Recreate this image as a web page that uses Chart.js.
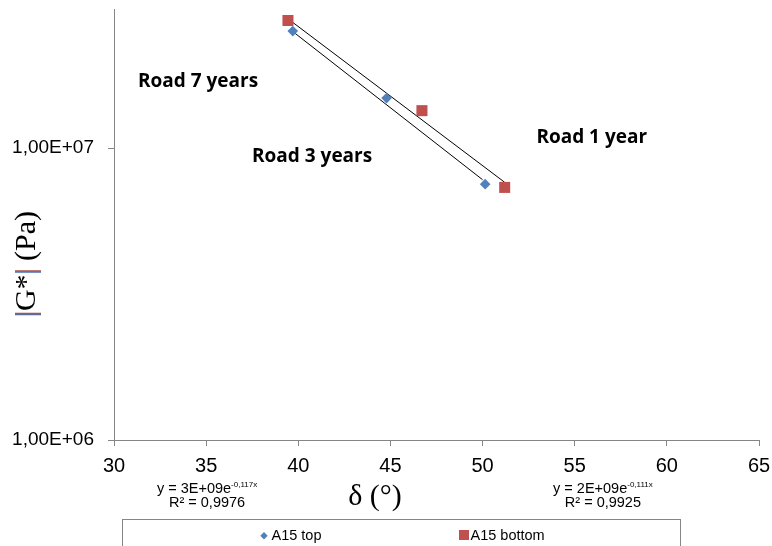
<!DOCTYPE html>
<html>
<head>
<meta charset="utf-8">
<script src="https://cdn.jsdelivr.net/npm/chart.js@4"></script>
<style>
    html, body { margin: 0; padding: 0; background: #fff; }
</style>
</head>
<body>
<canvas id="modulusChart" width="772" height="546"></canvas>
<script>
// phase angle (deg) and |G*| (Pa)
const deltaTop = [39.7, 44.79, 50.14];
const modulusTop = [2.52e7, 1.485e7, 7.53e6];
const deltaBottom = [39.44, 46.71, 51.2];
const modulusBottom = [2.74e7, 1.345e7, 7.34e6];

// exponential trendlines, end points only
const trendTopDelta = [39.6, 50.0];
const trendTopModulus = [2.54e7, 7.8e6];
const trendBottomDelta = [39.53, 51.2];
const trendBottomModulus = [2.75e7, 7.64e6];

const yTickValues = [1e6, 1e7];
const yTickLabels = ['1,00E+06', '1,00E+07'];

const roadLabels = ['Road 7 years', 'Road 3 years', 'Road 1 year'];
const roadDelta = [31.3, 37.49, 52.92];
const roadModulus = [1.696e7, 9.39e6, 1.09e7];

const eqMain = ['y = 3E+09e', 'y = 2E+09e'];
const eqExp = ['-0,117x', '-0,111x'];
const eqR2 = ['R\u00b2 = 0,9976', 'R\u00b2 = 0,9925'];
const eqDelta = [35.05, 56.53];

const seriesNames = ['A15 top', 'A15 bottom'];
const blue = '#4F81BD';
const red = '#C0504D';

function toPoints(xs, ys) {
    return xs.map((x, i) => ({ x: x, y: ys[i] }));
}

const extraText = {
    id: 'extraText',
    afterDraw(chart) {
        const ctx = chart.ctx;
        const xs = chart.scales.x;
        const ys = chart.scales.y;
        const base = chart.chartArea.bottom;
        ctx.save();
        ctx.fillStyle = '#000';
        ctx.textBaseline = 'middle';
        ctx.textAlign = 'left';

        ctx.font = 'bold 19px "Open Sans"';
        roadLabels.forEach((t, i) => {
            ctx.fillText(t, xs.getPixelForValue(roadDelta[i]), ys.getPixelForValue(roadModulus[i]));
        });

        // trendline equations under the axis
        eqMain.forEach((t, i) => {
            const cx = xs.getPixelForValue(eqDelta[i]);
            ctx.font = '14.5px "Liberation Sans"';
            const w1 = ctx.measureText(t).width;
            ctx.font = '8px "Liberation Sans"';
            const w2 = ctx.measureText(eqExp[i]).width;
            const left = cx - (w1 + w2) / 2;
            ctx.font = '14.5px "Liberation Sans"';
            ctx.fillText(t, left, base + 49);
            ctx.font = '8px "Liberation Sans"';
            ctx.fillText(eqExp[i], left + w1, base + 45);
            ctx.font = '14.5px "Liberation Sans"';
            ctx.textAlign = 'center';
            ctx.fillText(eqR2[i], cx, base + 63);
            ctx.textAlign = 'left';
        });

        // x title
        ctx.font = '30px "Liberation Serif"';
        ctx.textAlign = 'center';
        ctx.fillText('δ (°)', xs.getPixelForValue(44.16), 497);

        // y title, rotated, with coloured bars
        ctx.translate(27, 264);
        ctx.rotate(-Math.PI / 2);
        ctx.textAlign = 'left';
        const parts = ['|', 'G*', '|', ' (Pa)'];
        ctx.font = '30px "Liberation Serif"';
        const total = ctx.measureText(parts.join('')).width;
        let px = -total / 2;
        parts.forEach((p) => {
            const w = ctx.measureText(p).width;
            if (p === '|') {
                ctx.fillStyle = '#4A74B4';
                ctx.fillText(p, px - 0.5, 0);
                ctx.fillStyle = '#A8544A';
                ctx.fillText(p, px + 0.5, 0);
            } else {
                ctx.fillStyle = '#000';
                ctx.fillText(p, px, 0);
            }
            px += w;
        });
        ctx.setTransform(1, 0, 0, 1, 0, 0);

        // legend box
        ctx.strokeStyle = '#868686';
        ctx.lineWidth = 1;
        ctx.strokeRect(122.5, 519.5, 558, 40);
        ctx.font = '14.5px "Liberation Sans"';
        ctx.fillStyle = blue;
        ctx.beginPath();
        ctx.moveTo(264, 532);
        ctx.lineTo(267.7, 535.7);
        ctx.lineTo(264, 539.4);
        ctx.lineTo(260.3, 535.7);
        ctx.closePath();
        ctx.fill();
        ctx.fillStyle = red;
        ctx.fillRect(459, 530, 10, 10);
        ctx.fillStyle = '#000';
        ctx.fillText(seriesNames[0], 271.5, 536);
        ctx.fillText(seriesNames[1], 470.5, 536);
        ctx.restore();
    }
};

new Chart(document.getElementById('modulusChart'), {
    type: 'scatter',
    data: {
        datasets: [
            {
                label: seriesNames[0],
                data: toPoints(deltaTop, modulusTop),
                pointStyle: 'rectRot',
                pointRadius: 5.3,
                backgroundColor: blue,
                borderColor: blue,
                borderWidth: 0
            },
            {
                label: seriesNames[1],
                data: toPoints(deltaBottom, modulusBottom),
                pointStyle: 'rect',
                pointRadius: 7.8,
                backgroundColor: red,
                borderColor: red,
                borderWidth: 0
            },
            {
                label: 'trend top',
                data: toPoints(trendTopDelta, trendTopModulus),
                showLine: true,
                pointRadius: 0,
                borderColor: '#000',
                borderWidth: 1
            },
            {
                label: 'trend bottom',
                data: toPoints(trendBottomDelta, trendBottomModulus),
                showLine: true,
                pointRadius: 0,
                borderColor: '#000',
                borderWidth: 1
            }
        ]
    },
    options: {
        responsive: false,
        animation: false,
        devicePixelRatio: 1,
        layout: { padding: { top: 9, right: 13, left: 0, bottom: 0 } },
        plugins: {
            legend: { display: false },
            tooltip: { enabled: false }
        },
        scales: {
            x: {
                type: 'linear',
                min: 30,
                max: 65,
                afterFit: (scale) => {
                    scale.height = 106;
                    scale.paddingLeft = 0;
                    scale.paddingRight = 0;
                },
                ticks: {
                    stepSize: 5,
                    color: '#000',
                    padding: 8,
                    maxRotation: 0,
                    font: { family: '"Liberation Sans"', size: 20 }
                },
                grid: { drawOnChartArea: false, drawTicks: true, tickLength: 6, color: '#868686' },
                border: { color: '#868686' }
            },
            y: {
                type: 'logarithmic',
                min: 1e6,
                max: 3e7,
                afterFit: (scale) => {
                    scale.width = 114;
                    scale.paddingTop = 0;
                    scale.paddingBottom = 0;
                },
                afterBuildTicks: (scale) => {
                    scale.ticks = yTickValues.map(v => ({ value: v }));
                },
                ticks: {
                    color: '#000',
                    padding: 14,
                    font: { family: '"Liberation Sans"', size: 19 },
                    callback: (value) => {
                        const i = yTickValues.indexOf(value);
                        return i >= 0 ? yTickLabels[i] : '';
                    }
                },
                grid: { drawOnChartArea: false, drawTicks: true, tickLength: 6, color: '#868686' },
                border: { color: '#868686' }
            }
        }
    },
    plugins: [extraText]
});
</script>
</body>
</html>
